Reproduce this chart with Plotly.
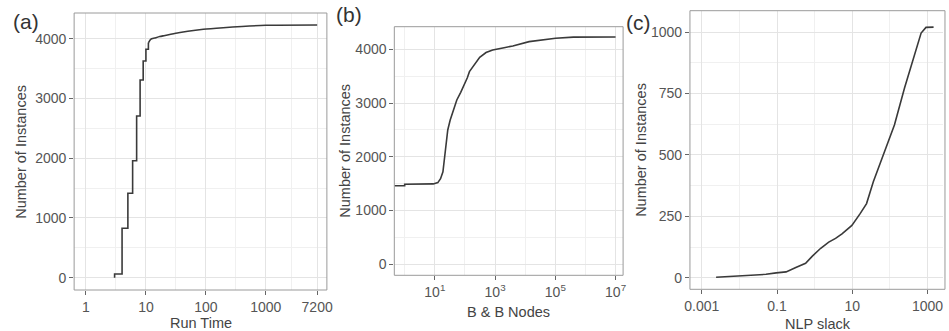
import plotly.graph_objects as go

# (a) cumulative instances solved vs run time
run_time = [3, 3, 4, 5, 6, 7, 8, 9, 10, 11, 12, 14, 17, 20, 26, 35, 50, 91, 195, 400, 1000, 7200]
instances_a = [0, 62, 827, 1412, 1958, 2706, 3309, 3627, 3823, 3930, 3990, 4010, 4035, 4050, 4074,
               4100, 4125, 4157, 4184, 4205, 4224, 4229]
STEP_END = 11  # integer run times up to here are drawn as steps, the tail as a curve

# (b) cumulative instances vs branch & bound nodes
bb_nodes = [0.45, 1, 1, 8.9, 12.6, 15.5, 18.6, 20, 22.4, 26.9, 32.4, 41.7, 53.7, 72.4, 100, 120, 141,
            191, 309, 501, 832, 1995, 3890, 13490, 39800, 102300, 398000, 1e6, 1e7]
instances_b = [1462, 1462, 1488, 1495, 1520, 1593, 1720, 1872, 2181, 2498, 2685, 2871, 3057, 3200, 3367,
               3470, 3584, 3680, 3850, 3940, 3987, 4030, 4061, 4142, 4180, 4205, 4226, 4229, 4229]

# (c) cumulative instances vs NLP slack
nlp_slack = [0.0024, 0.0155, 0.051, 0.095, 0.174, 0.316, 0.575, 0.87, 1.45, 2.37, 3.6, 5.33, 9.77,
             16.2, 24, 36.3, 72, 132, 245, 447, 676, 912, 1450]
instances_c = [2, 10, 14, 20, 24, 42, 59, 88, 120, 145, 160, 179, 213, 261, 302, 391, 513, 622, 772,
               907, 996, 1019, 1020]

a_ticks = [1, 10, 100, 1000, 7200]
a_minor = [3.162, 31.62, 316.2, 2683]
b_ticks = [10, 1e3, 1e5, 1e7]
b_ticktext = ["10<sup>1</sup>", "10<sup>3</sup>", "10<sup>5</sup>", "10<sup>7</sup>"]
b_minor = [1, 1e2, 1e4, 1e6]
c_ticks = [0.001, 0.1, 10, 1000]
c_minor = [0.01, 1, 100]
y_ticks_ab = [0, 1000, 2000, 3000, 4000]
y_minor_ab = [500, 1500, 2500, 3500]
y_ticks_c = [0, 250, 500, 750, 1000]
y_minor_c = [125, 375, 625, 875]

FONT = "Liberation Sans, Arial, sans-serif"
LINE = "#3a3a3a"
GRID = "#e4e4e4"
GRID_MINOR = "#f0f0f0"
BORDER = "#9a9a9a"
TICKFONT = dict(family=FONT, size=14, color="#555555")
W, H = 949, 331

# panel boxes in pixels: (left, top, right, bottom)
boxes = {
    "a": (69, 13, 325, 290),
    "b": (393.3, 26.7, 625, 275.3),
    "c": (692.7, 10.7, 951, 289.3),
}


def xdom(b):
    return [b[0] / W, min(b[2] / W, 1.0)]


def ydom(b):
    return [(H - b[3]) / H, (H - b[1]) / H]


k = run_time.index(STEP_END)
fig = go.Figure()
fig.add_trace(go.Scatter(x=run_time[:k + 1], y=instances_a[:k + 1], mode="lines",
                         line=dict(color=LINE, width=1.6, shape="hv"),
                         xaxis="x", yaxis="y", showlegend=False))
fig.add_trace(go.Scatter(x=run_time[k:], y=instances_a[k:], mode="lines",
                         line=dict(color=LINE, width=1.6, shape="spline", smoothing=0.6),
                         xaxis="x", yaxis="y", showlegend=False))
fig.add_trace(go.Scatter(x=bb_nodes, y=instances_b, mode="lines", line=dict(color=LINE, width=1.6),
                         xaxis="x2", yaxis="y2", showlegend=False))
fig.add_trace(go.Scatter(x=nlp_slack, y=instances_c, mode="lines", line=dict(color=LINE, width=1.6),
                         xaxis="x3", yaxis="y3", showlegend=False))


def xaxis(box, rng, ticks, minor, anchor, ticktext=None):
    d = dict(domain=xdom(box), type="log", range=rng, anchor=anchor,
             tickmode="array", tickvals=ticks, ticks="outside", ticklen=4, tickcolor="#666666",
             showgrid=True, gridcolor=GRID, gridwidth=1, zeroline=False, showline=False,
             tickfont=TICKFONT,
             minor=dict(tickmode="array", tickvals=minor, showgrid=True, gridcolor=GRID_MINOR, ticks=""))
    if ticktext:
        d["ticktext"] = ticktext
    else:
        d["ticktext"] = [str(t) for t in ticks]
    return d


def yaxis(box, rng, ticks, minor, anchor):
    return dict(domain=ydom(box), range=rng, anchor=anchor,
                tickmode="array", tickvals=ticks, ticktext=[str(t) for t in ticks],
                ticks="outside", ticklen=4, tickcolor="#666666",
                showgrid=True, gridcolor=GRID, zeroline=False, showline=False, tickfont=TICKFONT,
                minor=dict(tickmode="array", tickvals=minor, showgrid=True, gridcolor=GRID_MINOR, ticks=""))


c_right = 3 + (W - 933.3) / 38.1

fig.update_layout(
    width=W, height=H, margin=dict(l=0, r=0, t=0, b=0),
    paper_bgcolor="white", plot_bgcolor="white",
    xaxis=xaxis(boxes["a"], [-0.198, 4.02], a_ticks, a_minor, "y"),
    yaxis=yaxis(boxes["a"], [-206, 4430], y_ticks_ab, y_minor_ab, "x"),
    xaxis2=xaxis(boxes["b"], [-0.344, 7.25], b_ticks, b_minor, "y2", b_ticktext),
    yaxis2=yaxis(boxes["b"], [-205, 4420], y_ticks_ab, y_minor_ab, "x2"),
    xaxis3=xaxis(boxes["c"], [-3.315, c_right], c_ticks, c_minor, "y3"),
    yaxis3=yaxis(boxes["c"], [-47, 1087], y_ticks_c, y_minor_c, "x3"),
)

# panel borders
for key, b in boxes.items():
    fig.add_shape(type="rect", xref="paper", yref="paper",
                  x0=b[0] / W, x1=b[2] / W, y0=(H - b[3]) / H, y1=(H - b[1]) / H,
                  line=dict(color=BORDER, width=1), fillcolor="rgba(0,0,0,0)", layer="above")

annotations = []
title_font = dict(family=FONT, size=14.5, color="#444444")
# x-axis titles
for text, cx, cy in [("Run Time", 197, 323), ("B & B Nodes", 509, 312), ("NLP slack", 822, 324)]:
    annotations.append(dict(text=text, x=cx / W, y=(H - cy) / H, xref="paper", yref="paper",
                            showarrow=False, font=title_font, xanchor="center", yanchor="middle"))
# y-axis titles
for cx, cy in [(15, 152), (343, 151), (643, 150)]:
    annotations.append(dict(text="Number of Instances", x=cx / W, y=(H - cy) / H, xref="paper",
                            yref="paper", showarrow=False, font=title_font, textangle=-90,
                            xanchor="center", yanchor="middle"))
# panel labels
for text, cx, cy in [("(a)", 20, 21), ("(b)", 347, 15), ("(c)", 641, 22)]:
    annotations.append(dict(text=text, x=cx / W, y=(H - cy) / H, xref="paper", yref="paper",
                            showarrow=False, font=dict(family=FONT, size=21, color="#333333"),
                            xanchor="center", yanchor="middle"))
fig.update_layout(annotations=annotations)

fig.write_html("out.html")
